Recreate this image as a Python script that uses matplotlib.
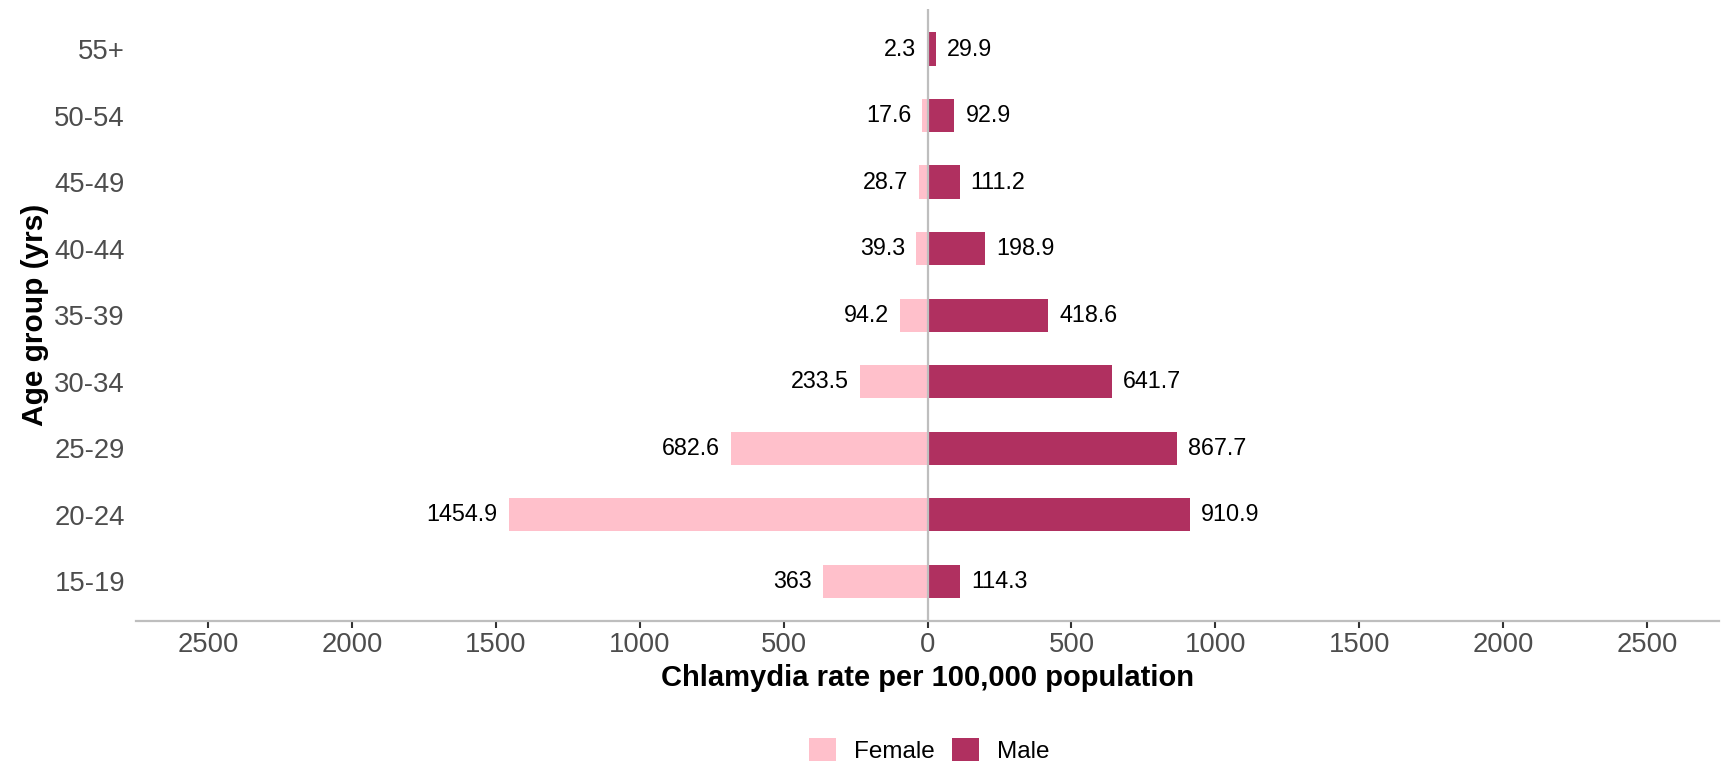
import matplotlib
matplotlib.use("Agg")
import matplotlib.pyplot as plt
from matplotlib.patches import Patch

plt.rcParams['font.family'] = ['Liberation Sans', 'DejaVu Sans']

# data
age_groups = ["15-19", "20-24", "25-29", "30-34", "35-39", "40-44", "45-49", "50-54", "55+"]
female = [363, 1454.9, 682.6, 233.5, 94.2, 39.3, 28.7, 17.6, 2.3]
male = [114.3, 910.9, 867.7, 641.7, 418.6, 198.9, 111.2, 92.9, 29.9]
xticks = [-2500, -2000, -1500, -1000, -500, 0, 500, 1000, 1500, 2000, 2500]

female_col = "#FFC0CB"
male_col = "#B03060"

fig = plt.figure(figsize=(17.26, 7.64), dpi=100)
ax = fig.add_axes([0.0788, 0.187, 0.9172, 0.801])

y = list(range(len(age_groups)))
ax.barh(y, [-v for v in female], height=0.5, color=female_col, zorder=2)
ax.barh(y, male, height=0.5, color=male_col, zorder=2)
ax.axvline(0, color="#BEBEBE", lw=1.6, zorder=3)

# value labels
for yi, v in zip(y, female):
    ax.annotate(f"{v:g}", (-v, yi), xytext=(-8, 0), textcoords="offset points",
                ha="right", va="center", fontsize=16.8, color="black")
for yi, v in zip(y, male):
    ax.annotate(f"{v:g}", (v, yi), xytext=(8, 0), textcoords="offset points",
                ha="left", va="center", fontsize=16.8, color="black")

ax.set_xlim(-2750, 2750)
ax.set_ylim(-0.6, 8.6)
ax.set_xticks(xticks)
ax.set_xticklabels([str(abs(t)) for t in xticks])
ax.set_yticks(y)
ax.set_yticklabels(age_groups)
ax.tick_params(axis="x", length=5, width=1.5, color="#333333", labelsize=19.8,
               labelcolor="#4D4D4D", pad=3)
ax.tick_params(axis="y", length=0, labelsize=19.8, labelcolor="#4D4D4D", pad=8)

for s in ["top", "right", "left"]:
    ax.spines[s].set_visible(False)
ax.spines["bottom"].set_color("#BEBEBE")
ax.spines["bottom"].set_linewidth(1.6)

ax.set_xlabel("Chlamydia rate per 100,000 population", fontsize=21, fontweight="bold", labelpad=4)
ax.set_ylabel("Age group (yrs)", fontsize=21.5, fontweight="bold", labelpad=4)

handles = [Patch(facecolor=female_col, label="Female"), Patch(facecolor=male_col, label="Male")]
fig.legend(handles=handles, loc="center", bbox_to_anchor=(0.5385, 0.018), ncol=2, frameon=False,
           fontsize=17.5, handlelength=1.1, handleheight=1.1, columnspacing=0.7, handletextpad=0.75)

fig.savefig("out.png", dpi=100)
